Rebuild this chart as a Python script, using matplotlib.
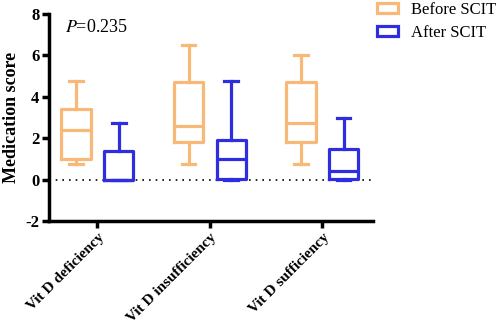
import numpy as np
import matplotlib.pyplot as plt
from matplotlib.patches import Patch

categories = ['Vit D deficiency', 'Vit D insufficiency', 'Vit D sufficiency']
# box stats per group: whisker low, Q1, median, Q3, whisker high
before_stats = [
    [0.75, 1.0, 2.4, 3.4, 4.75],
    [0.75, 1.8, 2.6, 4.7, 6.5],
    [0.77, 1.8, 2.75, 4.7, 6.0],
]
after_stats = [
    [0.0, 0.0, 0.0, 1.4, 2.75],
    [0.0, 0.05, 1.0, 1.9, 4.75],
    [0.0, 0.05, 0.4, 1.5, 3.0],
]
labels = ['Before SCIT', 'After SCIT']
colors = ['#F7B878', '#2E2EE0']

plt.rcParams['font.family'] = ['Liberation Serif', 'DejaVu Serif']
plt.rcParams['mathtext.fontset'] = 'stix'
plt.rcParams['axes.unicode_minus'] = False

fig = plt.figure(figsize=(5.0, 3.32), dpi=100)
ax = fig.add_axes([0.098, 0.334, 0.648, 0.624])

def to_bxp(s):
    return dict(whislo=s[0], q1=s[1], med=s[2], q3=s[3], whishi=s[4], fliers=[])

x = np.arange(len(categories))
off = 0.19
for stats, dx, c in [(before_stats, -off, colors[0]), (after_stats, off, colors[1])]:
    ax.bxp([to_bxp(s) for s in stats], positions=x + dx, widths=0.26,
           showfliers=False, showcaps=True,
           boxprops=dict(color=c, linewidth=2.3),
           whiskerprops=dict(color=c, linewidth=2.3),
           capprops=dict(color=c, linewidth=2.3),
           medianprops=dict(color=c, linewidth=2.3),
           capwidths=0.12)

ax.axhline(0, color='black', linestyle=(0, (1, 3)), linewidth=1.2, zorder=0)

ax.set_xlim(-0.43, 2.45)
ax.set_ylim(-2, 8)
ax.set_yticks([-2, 0, 2, 4, 6, 8])
ax.set_xticks(x)
ax.set_xticklabels(categories, rotation=45, ha='right', rotation_mode='anchor',
                   fontsize=11, fontweight='bold')
for t in ax.get_yticklabels():
    t.set_fontweight('bold')
    t.set_fontsize(12)
ax.set_ylabel('Medication score', fontsize=13, fontweight='bold', labelpad=4)

for side in ['top', 'right']:
    ax.spines[side].set_visible(False)
for side in ['left', 'bottom']:
    ax.spines[side].set_linewidth(2.5)
ax.tick_params(width=2.5, length=5, pad=2)

ax.text(0.05, 0.975, '$P$=0.235', transform=ax.transAxes, fontsize=13,
        va='top', ha='left')

handles = [Patch(facecolor='white', edgecolor=c, linewidth=2.3) for c in colors]
fig.legend(handles, labels, loc='upper left', bbox_to_anchor=(0.75, 1.0),
           frameon=False, fontsize=12, handlelength=1.25, handleheight=0.55,
           handletextpad=0.8, borderpad=0.1, borderaxespad=0, labelspacing=0.45)

plt.savefig('out.png', dpi=100)
